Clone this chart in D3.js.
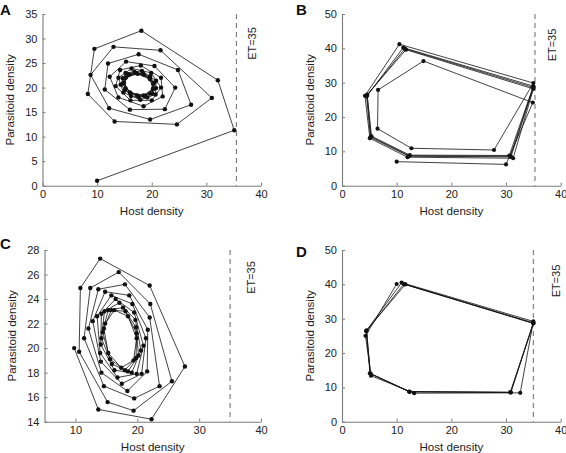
<!DOCTYPE html>
<html>
<head>
<meta charset="utf-8">
<script src="https://cdn.jsdelivr.net/npm/d3@7/dist/d3.min.js"></script>
<style>
  html, body { margin: 0; padding: 0; background: #fff; }
  svg { display: block; font-family: "Liberation Sans", Arial, Helvetica, sans-serif; }
</style>
</head>
<body>
<svg id="chart" width="566" height="453"></svg>
<script>
// ---------------- DATA ----------------
const aHost = [10.0,35.1,32.1,18.1,9.5,8.3,13.2,24.6,31.0,
  21.6,13.0,8.8,12.2,19.7,27.2,24.8,17.6,12.0,11.4,16.0,22.4,24.3,20.5,15.3,12.3,13.9,18.5,22.0,21.7,
  18.0,14.2,13.4,16.1,20.0,21.7,19.9,16.3,13.9,14.8,17.9,20.7,20.8,18.2,15.2,14.3,16.2,19.2,20.8,19.7,
  16.8,14.7,15.1,17.6,20.1,20.4,18.4,15.7,14.7,16.1,18.8,20.4,19.6,17.1,15.1,15.2,
  17.3,19.7,20.3,18.6,16.0,14.9,16.0,18.5,20.2,19.7,17.4,15.3];
const aPara = [1.0,11.3,21.5,31.6,27.9,18.7,13.1,12.5,17.9,
  27.6,28.3,22.6,15.8,13.5,16.5,23.6,26.8,24.9,19.6,15.5,15.6,20.0,24.4,25.3,22.2,18.0,16.2,18.2,22.0,
  24.5,23.6,20.3,17.4,17.4,20.0,23.0,23.9,22.0,19.0,17.5,18.6,21.4,23.4,23.0,20.6,18.3,18.0,19.9,22.3,
  23.2,21.9,19.5,18.1,18.8,21.0,22.9,22.7,20.8,18.8,18.3,19.8,22.0,23.0,21.9,19.8,
  18.4,18.8,20.8,22.6,22.7,21.0,19.0,18.4,19.7,21.7,22.8,22.1];

const bHost = [10.0,30.0,34.9,14.9,6.6,6.5,12.7,27.8,35.0,10.5,4.2,5.1,12.0,31.3,35.0,11.7,4.6,5.4,12.4,30.6,
  35.0,11.2,4.5,5.2,12.2,30.9,35.0,11.5,4.6,5.3,12.3,30.8,35.0];
const bPara = [7.0,6.2,24.2,36.3,27.9,16.6,10.9,10.4,29.9,41.2,26.2,13.8,8.3,8.0,28.2,39.6,26.5,14.4,8.9,8.8,
  29.0,40.2,26.0,14.1,8.6,8.4,28.6,39.9,26.3,14.3,8.7,8.6,28.8];

const cHost = [9.8,13.7,22.3,27.7,
  22.0,14.0,10.8,10.6,15.2,19.4,25.6,22.1,17.0,12.4,11.4,14.6,19.5,23.6,22.0,18.0,13.7,12.1,14.2,18.4,
  21.6,21.7,18.7,14.8,12.8,14.1,17.5,20.7,21.4,19.2,15.8,13.5,14.0,16.8,19.9,21.0,19.5,16.5,14.2,14.1,
  16.3,19.1,20.6,19.7,17.1,14.7,14.2,15.9,18.5,20.2,19.8,17.7,15.3,14.4,15.6,18.0,19.8,19.9,18.1,15.8,
  14.6,15.3,17.4,19.4,19.9,18.5,16.3,14.8];
const cPara = [20.0,15.0,14.2,18.5,
  25.1,27.3,24.9,19.7,15.6,14.9,17.3,23.6,26.2,24.9,20.8,16.9,15.9,16.9,22.5,25.2,24.8,21.6,18.0,16.5,
  18.1,21.5,24.3,24.6,22.2,18.9,17.1,17.9,20.8,23.6,24.3,22.6,19.6,17.6,17.9,20.2,22.9,24.0,22.8,20.3,
  18.2,18.0,19.8,22.3,23.7,23.0,20.8,18.7,18.1,19.4,21.7,23.3,23.1,21.3,19.1,18.2,19.2,21.2,23.0,23.1,
  21.6,19.6,18.4,19.0,20.8,22.6,23.1,22.0];

const dHost = [10.0,4.3,5.3,13.2,32.6,35.0,10.9,4.5,5.1,12.3,30.8,35.0,11.6,4.4,5.2,12.4,30.9,35.0,
  11.3,4.5,5.2,12.3,30.8,35.0,11.4];
const dPara = [40.1,25.0,13.4,8.3,8.4,29.2,40.5,26.6,14.1,8.8,8.6,28.6,40.0,26.4,14.0,8.7,8.5,28.8,
  40.1,26.4,14.0,8.7,8.5,28.7,40.0];

const xTicksABD = [0,10,20,30,40];
const xTicksC = [10,20,30,40];
const yTicksA = [0,5,10,15,20,25,30,35];
const yTicksBD = [0,10,20,30,40,50];
const yTicksC = [14,16,18,20,22,24,26,28];
const etValues = [35.5, 35.3, 35, 35];
const panelLetters = ["A","B","C","D"];
const xLabel = "Host density";
const yLabel = "Parasitoid density";
const etLabel = "ET=35";

// ---------------- LAYOUT ----------------
const panels = [
  {letter: panelLetters[0], host: aHost, para: aPara, xDom:[0,40], yDom:[0,35], xt: xTicksABD, yt: yTicksA,
   et: etValues[0], box:{l:42.5,r:261,t:14,b:185.7}, etOff:19.5, etY:43.5, lx:0, ly:15, r:2.2},
  {letter: panelLetters[1], host: bHost, para: bPara, xDom:[0,40], yDom:[0,50], xt: xTicksABD, yt: yTicksBD,
   et: etValues[1], box:{l:342,r:560.7,t:14,b:185.7}, etOff:21, etY:45, lx:296, ly:15, r:2.1},
  {letter: panelLetters[2], host: cHost, para: cPara, xDom:[5,40], yDom:[14,28], xt: xTicksC, yt: yTicksC,
   et: etValues[2], box:{l:44.5,r:261,t:250,b:421.7}, etOff:25, etY:277.5, lx:0, ly:249, r:2.2},
  {letter: panelLetters[3], host: dHost, para: dPara, xDom:[0,40], yDom:[0,50], xt: xTicksABD, yt: yTicksBD,
   et: etValues[3], box:{l:342,r:560.7,t:250,b:421.7}, etOff:27, etY:281, lx:296, ly:257, r:2.1}
];

const svg = d3.select("#chart");
const axisGrey = "#7a7a7a";
const tickFont = 11, labelFont = 11.6;

panels.forEach(p => {
  const x = d3.scaleLinear().domain(p.xDom).range([p.box.l, p.box.r]);
  const y = d3.scaleLinear().domain(p.yDom).range([p.box.b, p.box.t]);
  const g = svg.append("g");

  // dashed ET line
  g.append("line")
    .attr("x1", x(p.et)).attr("x2", x(p.et))
    .attr("y1", y(p.yDom[1])).attr("y2", y(p.yDom[0]))
    .attr("stroke", "#777").attr("stroke-width", 1.1)
    .attr("stroke-dasharray", "5,4");

  g.append("text")
    .attr("transform", `translate(${x(p.et) + p.etOff},${p.etY}) rotate(-90)`)
    .attr("text-anchor", "middle")
    .attr("font-size", tickFont).attr("fill", "#222")
    .text(etLabel);

  // axes
  const xa = g.append("g").attr("transform", `translate(0,${p.box.b})`)
    .call(d3.axisBottom(x).tickValues(p.xt).tickSizeInner(-3).tickSizeOuter(0).tickPadding(5));
  const ya = g.append("g").attr("transform", `translate(${p.box.l},0)`)
    .call(d3.axisLeft(y).tickValues(p.yt).tickSizeInner(-3).tickSizeOuter(0).tickPadding(5));
  [xa, ya].forEach(a => {
    a.select(".domain").attr("stroke", axisGrey).attr("stroke-width", 1.1);
    a.selectAll(".tick line").attr("stroke", axisGrey);
    a.selectAll(".tick text").attr("fill", "#222").attr("font-size", tickFont)
      .attr("font-family", "Liberation Sans, Arial, sans-serif");
  });

  // axis labels
  g.append("text")
    .attr("x", (p.box.l + p.box.r) / 2).attr("y", p.box.b + 29.5)
    .attr("text-anchor", "middle").attr("font-size", labelFont).attr("fill", "#222")
    .text(xLabel);
  g.append("text")
    .attr("transform", `translate(${p.box.l - 28.5},${(p.box.t + p.box.b) / 2}) rotate(-90)`)
    .attr("text-anchor", "middle").attr("font-size", labelFont).attr("fill", "#222")
    .text(yLabel);

  // panel letter
  g.append("text")
    .attr("x", p.lx).attr("y", p.ly)
    .attr("font-size", 15).attr("font-weight", "bold").attr("fill", "#111")
    .text(p.letter);

  // trajectory
  const pts = p.host.map((h, i) => [h, p.para[i]]);
  g.append("path")
    .attr("d", d3.line().x(d => x(d[0])).y(d => y(d[1]))(pts))
    .attr("fill", "none").attr("stroke", "#111").attr("stroke-width", 0.8)
    .attr("stroke-linejoin", "round");
  g.selectAll("circle.pt").data(pts).enter().append("circle")
    .attr("class", "pt")
    .attr("cx", d => x(d[0])).attr("cy", d => y(d[1]))
    .attr("r", p.r).attr("fill", "#111");
});
</script>
</body>
</html>
